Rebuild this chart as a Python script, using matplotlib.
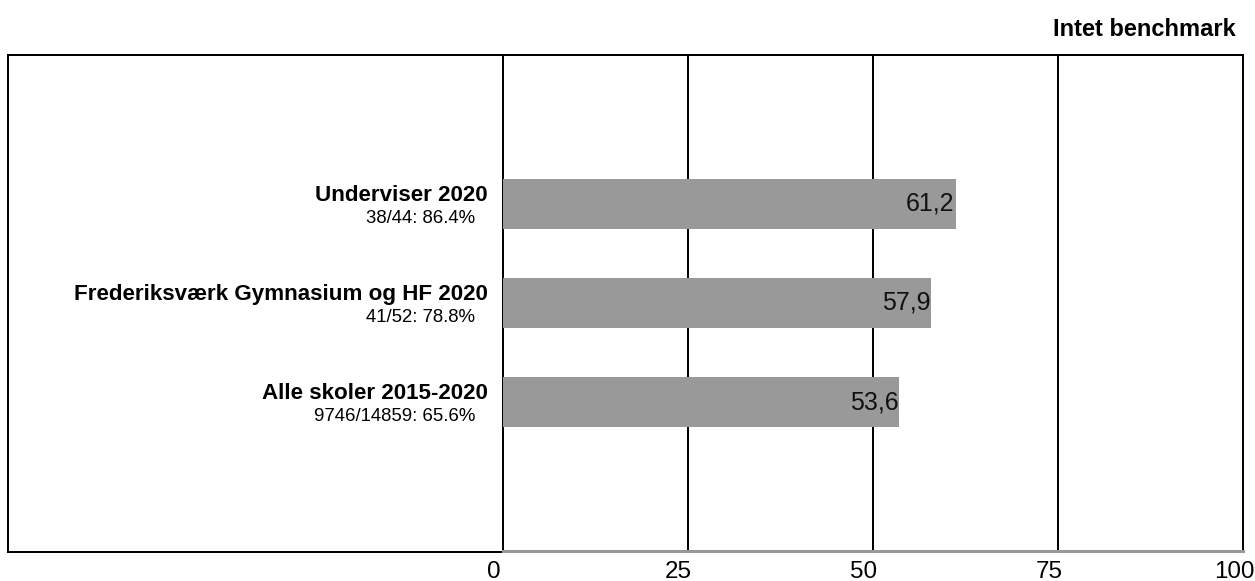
import matplotlib
matplotlib.use("Agg")
import matplotlib.pyplot as plt
from matplotlib.lines import Line2D
from matplotlib.transforms import ScaledTranslation, blended_transform_factory

plt.rcParams['font.family'] = ['Liberation Sans', 'DejaVu Sans']

categories = ["Underviser 2020", "Frederiksværk Gymnasium og HF 2020", "Alle skoler 2015-2020"]
sublabels = ["38/44: 86.4%", "41/52: 78.8%", "9746/14859: 65.6%"]
values = [61.2, 57.9, 53.6]
value_labels = ["61,2", "57,9", "53,6"]
xticks = [0, 25, 50, 75, 100]
xticklabels = ["0", "25", "50", "75", "100"]
title = "Intet benchmark"

W, H = 1255, 581
fig = plt.figure(figsize=(W / 100, H / 100), dpi=100)

def fx(px):
    return px / W

def fy(py):
    return 1 - py / H

ax = fig.add_axes([fx(502.5), fy(551), fx(1243) - fx(502.5), fy(55) - fy(551)])
ax.set_xlim(0, 100)
ax.set_ylim(3.5, -1.5)
for s in ax.spines.values():
    s.set_visible(False)
ax.set_yticks([])

ypos = list(range(len(categories)))
ax.barh(ypos, values, height=0.5, color="#999999", zorder=3)

for t in xticks[:-1]:
    ax.axvline(t, color="black", lw=1.44, zorder=1, clip_on=False)

ax.set_xticks(xticks)
ax.set_xticklabels(xticklabels, fontsize=17.4)
ax.tick_params(axis='x', length=0, pad=7)
for lab in ax.get_xticklabels():
    lab.set_transform(lab.get_transform() + ScaledTranslation(-9 / 100, 0, fig.dpi_scale_trans))

# value labels
for y, v, lab in zip(ypos, values, value_labels):
    ax.text(v, y, lab, ha='right', va='center', fontsize=18, color='#111111', zorder=4,
            transform=ax.transData + ScaledTranslation(-1 / 100, 0, fig.dpi_scale_trans))

# category labels
btrans = blended_transform_factory(ax.transAxes, ax.transData)
for y, c, s in zip(ypos, categories, sublabels):
    ax.text(0, y, c, ha='right', va='baseline', fontsize=16.1, fontweight='bold',
            transform=btrans + ScaledTranslation(-15 / 100, 3 / 100, fig.dpi_scale_trans),
            clip_on=False)
    ax.text(0, y, s, ha='right', va='baseline', fontsize=13.4,
            transform=btrans + ScaledTranslation(-27 / 100, -19 / 100, fig.dpi_scale_trans),
            clip_on=False)

# outer frame
lw = 1.44
fig.add_artist(Line2D([fx(7.5), fx(1243)], [fy(55), fy(55)], color='black', lw=lw))
fig.add_artist(Line2D([fx(7.5), fx(7.5)], [fy(55), fy(552)], color='black', lw=lw))
fig.add_artist(Line2D([fx(1243), fx(1243)], [fy(55), fy(551)], color='black', lw=lw))
fig.add_artist(Line2D([fx(7.5), fx(502.5)], [fy(552), fy(552)], color='black', lw=lw))
fig.add_artist(Line2D([fx(502.5), fx(1243)], [fy(550.5), fy(550.5)], color='#999999', lw=2.2))

fig.text(fx(1236), fy(36), title, ha='right', va='baseline', fontsize=17, fontweight='bold')

fig.savefig("out.png", dpi=100)
